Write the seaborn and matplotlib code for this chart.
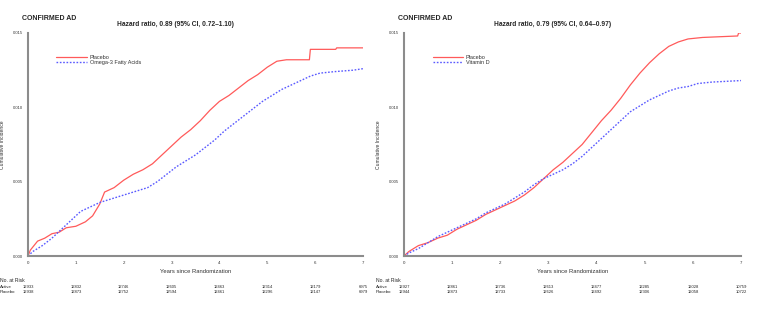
import matplotlib
matplotlib.use("Agg")
import matplotlib.pyplot as plt
import matplotlib.transforms as mtrans
import seaborn as sns
import pandas as pd

# ---------------- data ----------------
# Left panel: Omega-3 fatty acids
o3_placebo_t = [0, 0.05, 0.2, 0.35, 0.5, 0.65, 0.8, 1.0, 1.2, 1.35, 1.5, 1.6, 1.8, 2.0, 2.2, 2.4, 2.6, 2.8,
                3.0, 3.2, 3.4, 3.6, 3.8, 4.0, 4.2, 4.4, 4.6, 4.8, 5.0, 5.2, 5.4, 5.88, 5.9, 6.43, 6.45, 7.0]
o3_placebo_v = [0, 0.0004, 0.0010, 0.0012, 0.0015, 0.0016, 0.0019, 0.0020, 0.0023, 0.0027, 0.0035, 0.0043,
                0.0046, 0.0051, 0.0055, 0.0058, 0.0062, 0.0068, 0.0074, 0.0080, 0.0085, 0.0091, 0.0098,
                0.0104, 0.0108, 0.0113, 0.0118, 0.0122, 0.0127, 0.0131, 0.0132, 0.0132, 0.0139, 0.0139,
                0.0140, 0.0140]
o3_active_t = [0, 0.1, 0.3, 0.5, 0.7, 0.9, 1.1, 1.3, 1.5, 1.7, 1.9, 2.1, 2.3, 2.5, 2.7, 2.9, 3.1,
               3.3, 3.5, 3.7, 3.9, 4.1, 4.3, 4.5, 4.7, 4.9, 5.1, 5.3, 5.5, 5.7, 5.9, 6.1, 6.4, 6.8, 7.0]
o3_active_v = [0, 0.0003, 0.0007, 0.0012, 0.0018, 0.0024, 0.0030, 0.0033, 0.0036, 0.0038, 0.0040,
               0.0042, 0.0044, 0.0046, 0.0050, 0.0055, 0.0060, 0.0064, 0.0068, 0.0073, 0.0078,
               0.0084, 0.0089, 0.0094, 0.0099, 0.0104, 0.0108, 0.0112, 0.0115, 0.0118, 0.0121,
               0.0123, 0.0124, 0.0125, 0.0126]

# Right panel: Vitamin D
vd_placebo_t = [0, 0.1, 0.3, 0.5, 0.7, 0.9, 1.1, 1.3, 1.5, 1.7, 1.9, 2.1, 2.3, 2.5, 2.7, 2.9, 3.1,
                3.3, 3.5, 3.7, 3.9, 4.1, 4.3, 4.5, 4.7, 4.9, 5.1, 5.3, 5.5, 5.7, 5.9, 6.2, 6.93, 6.95, 7.0]
vd_placebo_v = [0, 0.0003, 0.0007, 0.0009, 0.0012, 0.0014, 0.0018, 0.0021, 0.0024, 0.0028, 0.0031,
                0.0034, 0.0037, 0.0041, 0.0046, 0.0052, 0.0058, 0.0063, 0.0069, 0.0075, 0.0083,
                0.0091, 0.0098, 0.0106, 0.0115, 0.0123, 0.0130, 0.0136, 0.0141, 0.0144, 0.0146,
                0.0147, 0.0148, 0.0150, 0.0150]
vd_active_t = [0, 0.1, 0.3, 0.5, 0.7, 0.9, 1.1, 1.3, 1.5, 1.7, 1.9, 2.1, 2.3, 2.5, 2.7, 2.9, 3.1,
               3.3, 3.5, 3.7, 3.9, 4.1, 4.3, 4.5, 4.7, 4.9, 5.1, 5.3, 5.5, 5.7, 5.9, 6.1, 6.4, 7.0]
vd_active_v = [0, 0.0002, 0.0005, 0.0009, 0.0013, 0.0016, 0.0019, 0.0022, 0.0025, 0.0029, 0.0032,
               0.0035, 0.0039, 0.0043, 0.0048, 0.0052, 0.0055, 0.0058, 0.0062, 0.0067, 0.0073,
               0.0079, 0.0085, 0.0091, 0.0097, 0.0101, 0.0105, 0.0108, 0.0111, 0.0113, 0.0114,
               0.0116, 0.0117, 0.0118]

years = [0, 1, 2, 3, 4, 5, 6, 7]
yticks = [0.000, 0.005, 0.010, 0.015]
ytick_labels = ["0.000", "0.005", "0.010", "0.015"]

o3_risk_active = ["12933", "12832", "12746", "12605", "12463", "12314", "12179", "6975"]
o3_risk_placebo = ["12938", "12873", "12752", "12594", "12461", "12296", "12147", "6979"]
vd_risk_active = ["12927", "12861", "12736", "12613", "12477", "12285", "12028", "10759"]
vd_risk_placebo = ["12944", "12873", "12733", "12626", "12492", "12306", "12058", "10722"]

panels = [
    dict(pl_t=o3_placebo_t, pl_v=o3_placebo_v, ac_t=o3_active_t, ac_v=o3_active_v,
         active_name="Omega-3 Fatty Acids", hr="Hazard ratio, 0.89 (95% CI, 0.72\u20131.10)",
         risk_a=o3_risk_active, risk_p=o3_risk_placebo),
    dict(pl_t=vd_placebo_t, pl_v=vd_placebo_v, ac_t=vd_active_t, ac_v=vd_active_v,
         active_name="Vitamin D", hr="Hazard ratio, 0.79 (95% CI, 0.64\u20130.97)",
         risk_a=vd_risk_active, risk_p=vd_risk_placebo),
]

# ---------------- figure ----------------
sns.set_style("white")
plt.rcParams["font.family"] = ["Liberation Sans", "DejaVu Sans"]

W, H = 784, 327
fig = plt.figure(figsize=(W / 100, H / 100), dpi=100)

ax_boxes = [(28, 363), (404, 741)]
y_top, y_bot = 33, 256

red = "#ff5a5a"
blue = "#5a5aff"
spine_col = "#8c8c8c"

for i, (p, (x0, x1)) in enumerate(zip(panels, ax_boxes)):
    ax = fig.add_axes([x0 / W, 1 - y_bot / H, (x1 - x0) / W, (y_bot - y_top) / H])
    df_p = pd.DataFrame({"t": p["pl_t"], "v": p["pl_v"]})
    df_a = pd.DataFrame({"t": p["ac_t"], "v": p["ac_v"]})
    sns.lineplot(data=df_p, x="t", y="v", ax=ax, color=red, lw=0.9,
                 label="Placebo", estimator=None, sort=False)
    sns.lineplot(data=df_a, x="t", y="v", ax=ax, color=blue, lw=1.0, linestyle=(0, (1.2, 1.2)),
                 label=p["active_name"], estimator=None, sort=False)
    ax.set_xlim(0, 7)
    ax.set_ylim(0, 0.015)
    ax.set_xticks(years)
    ax.set_xticklabels([str(y) for y in years], fontsize=3.2)
    ax.set_yticks(yticks)
    ax.set_yticklabels(ytick_labels, fontsize=3.0)
    ax.tick_params(length=2, width=0.8, pad=1.5, colors="#333333", color=spine_col)
    for s in ["top", "right"]:
        ax.spines[s].set_visible(False)
    for s in ["left", "bottom"]:
        ax.spines[s].set_color(spine_col)
        ax.spines[s].set_linewidth(1.5)
    ax.set_xlabel("Years since Randomization", fontsize=4.2, labelpad=3, color="#333333")
    ax.set_ylabel("Cumulative Incidence", fontsize=3.6, labelpad=6, color="#333333")
    leg = ax.legend(loc="upper left", bbox_to_anchor=(0.07, 0.925), frameon=False,
                    fontsize=4.0, handlelength=5.5, handletextpad=0.5, labelspacing=0.05)
    for t in leg.get_texts():
        t.set_color("#333333")

    # titles
    fig.text((x0 - 6) / W, 1 - 18 / H, "CONFIRMED AD", fontsize=5, fontweight="bold",
             va="center", ha="left")
    fig.text((x0 + 0.44 * (x1 - x0)) / W, 1 - 25 / H, p["hr"], fontsize=4.8, fontweight="bold",
             va="center", ha="center")

    # numbers at risk
    tr = mtrans.blended_transform_factory(ax.transData, fig.transFigure)
    lab_x = (x0 - 28) / W
    fig.text(lab_x, 1 - 280 / H, "No. at Risk", fontsize=3.6, va="center", ha="left")
    fig.text(lab_x, 1 - 287 / H, "Active", fontsize=3.2, va="center", ha="left")
    fig.text(lab_x, 1 - 292 / H, "Placebo", fontsize=3.2, va="center", ha="left")
    for yv, a, b in zip(years, p["risk_a"], p["risk_p"]):
        ax.text(yv, 1 - 287 / H, a, transform=tr, fontsize=3.0, ha="center", va="center")
        ax.text(yv, 1 - 292 / H, b, transform=tr, fontsize=3.0, ha="center", va="center")

fig.savefig("out.png", dpi=100)
